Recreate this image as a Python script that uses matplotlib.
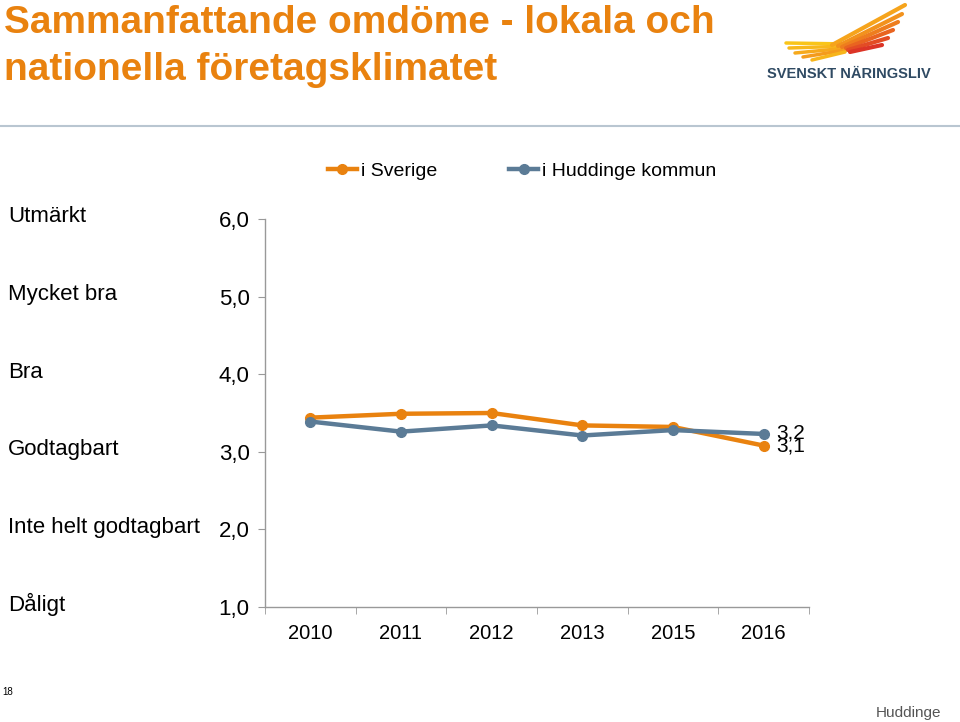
import matplotlib.pyplot as plt
from matplotlib.lines import Line2D

# ---- data ----
years = ['2010', '2011', '2012', '2013', '2015', '2016']
sverige = [3.44, 3.49, 3.50, 3.34, 3.32, 3.08]
huddinge = [3.39, 3.26, 3.34, 3.21, 3.28, 3.23]
yticks = [1, 2, 3, 4, 5, 6]
grades = ['Dåligt', 'Inte helt godtagbart', 'Godtagbart', 'Bra', 'Mycket bra', 'Utmärkt']
end_labels = ['3,1', '3,2']

orange = '#E9820F'
blue = '#5B7B96'

plt.rcParams['font.family'] = ['Liberation Sans', 'DejaVu Sans']

W, H = 960, 722
fig = plt.figure(figsize=(W / 100, H / 100), dpi=100)


def fx(x):
    return x / W


def fy(y):
    return 1 - y / H


# header
fig.text(fx(4), fy(23), 'Sammanfattande omdöme - lokala och', color=orange, fontsize=28,
         fontweight='bold', va='center', ha='left')
fig.text(fx(4), fy(70), 'nationella företagsklimatet', color=orange, fontsize=28,
         fontweight='bold', va='center', ha='left')
fig.add_artist(Line2D([0, 1], [fy(126), fy(126)], color='#B9C6D1', lw=1.5))

# logo (rough wing strokes + name)
left_feathers = [((786, 43), (850, 44), '#F9C51A'), ((789, 48), (850, 46), '#F8B81B'),
                 ((795, 53), (848, 48), '#F6A91C'), ((803, 57), (846, 50), '#F49B1D'),
                 ((812, 60), (845, 52), '#F7B51B')]
for (x0, y0), (x1, y1), c in left_feathers:
    fig.add_artist(Line2D([fx(x0), fx(x1)], [fy(y0), fy(y1)], color=c, lw=2.5,
                          solid_capstyle='round'))
right_feathers = [((832, 45), (905, 5), '#F6A41C'), ((838, 46), (902, 14), '#F2921D'),
                  ((842, 47), (898, 22), '#EE7D1E'), ((846, 48), (893, 30), '#E96420'),
                  ((848, 50), (888, 38), '#E34C24'), ((850, 52), (882, 45), '#DC3426')]
for (x0, y0), (x1, y1), c in right_feathers:
    fig.add_artist(Line2D([fx(x0), fx(x1)], [fy(y0), fy(y1)], color=c, lw=3,
                          solid_capstyle='round'))
fig.text(fx(767), fy(74), 'SVENSKT NÄRINGSLIV', color='#2F4A63', fontsize=10.5,
         fontweight='bold', va='center', ha='left')

# chart
ax = fig.add_axes([fx(265), fy(607), fx(809) - fx(265), fy(219) - fy(607)])
x = range(len(years))
ax.plot(x, sverige, color=orange, lw=3.2, marker='o', ms=7, label='i Sverige')
ax.plot(x, huddinge, color=blue, lw=3.2, marker='o', ms=7, label='i Huddinge kommun')

ax.set_xlim(-0.5, len(years) - 0.5)
ax.set_ylim(1, 6)
ax.set_yticks(yticks)
ax.set_yticklabels([f'{v},0' for v in yticks], fontsize=16)
ax.set_xticks(x)
ax.set_xticklabels(years, fontsize=14.5)
ax.set_xticks([i + 0.5 for i in range(-1, len(years))], minor=True)
ax.tick_params(axis='x', which='major', length=0, pad=12)
ax.tick_params(axis='x', which='minor', length=5, color='#999999')
ax.tick_params(axis='y', length=5, color='#999999', pad=6)
for s in ['top', 'right']:
    ax.spines[s].set_visible(False)
for s in ['left', 'bottom']:
    ax.spines[s].set_color('#999999')
    ax.spines[s].set_linewidth(1)

ax.text(len(years) - 1 + 0.14, sverige[-1], end_labels[0], fontsize=15, va='center', ha='left')
ax.text(len(years) - 1 + 0.14, huddinge[-1] + 0.01, end_labels[1], fontsize=15,
        va='center', ha='left')

for v, g in zip(yticks, grades):
    fig.text(fx(8), ax.transData.transform((0, v))[1] / H + 0.003, g, fontsize=16,
             va='center', ha='left')

fig.legend(loc='center', bbox_to_anchor=(fx(522), fy(171)), ncol=2, frameon=False,
           fontsize=14, columnspacing=3.7, handlelength=1.5, handletextpad=0.2)

# footer
fig.text(fx(2), fy(692), '18', fontsize=7, va='center', ha='left')
fig.text(fx(941), fy(713), 'Huddinge', fontsize=11, color='#555555', va='center', ha='right')

fig.savefig('out.png', dpi=100)
